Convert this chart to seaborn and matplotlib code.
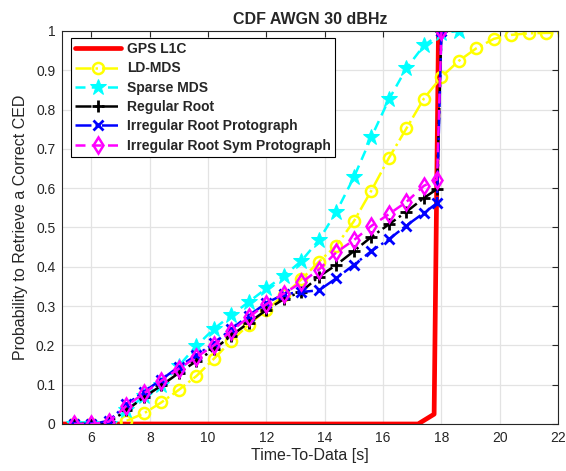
import numpy as np
import pandas as pd
import matplotlib
matplotlib.use("Agg")
import matplotlib.pyplot as plt
import seaborn as sns

# time axis (s) shared by most curves
t_grid = [5.4, 6.0, 6.6, 7.2, 7.8, 8.4, 9.0, 9.6, 10.2, 10.8, 11.4, 12.0,
          12.6, 13.2, 13.8, 14.4, 15.0, 15.6, 16.2, 16.8, 17.4, 17.85, 18.0]

# GPS L1C
t_gps = [5.0, 17.2, 17.75, 17.9]
p_gps = [0.0, 0.0, 0.025, 1.0]

# LD-MDS
t_ldmds = [5.4, 6.0, 6.6, 7.2, 7.8, 8.4, 9.0, 9.6, 10.2, 10.8, 11.4, 12.0,
           12.6, 13.2, 13.8, 14.4, 15.0, 15.6, 16.2, 16.8, 17.4, 18.0,
           18.6, 19.2, 19.8, 20.4, 21.0, 21.6, 22.2]
p_ldmds = [0.0, 0.0, 0.0, 0.008, 0.027, 0.055, 0.087, 0.122, 0.166, 0.212,
           0.253, 0.29, 0.328, 0.368, 0.413, 0.454, 0.516, 0.594, 0.677,
           0.752, 0.828, 0.883, 0.924, 0.956, 0.98, 0.99, 0.994, 0.995, 0.995]

# Sparse MDS
t_sparse = [5.4, 6.0, 6.6, 7.2, 7.8, 8.4, 9.0, 9.6, 10.2, 10.8, 11.4, 12.0,
            12.6, 13.2, 13.8, 14.4, 15.0, 15.6, 16.2, 16.8, 17.4, 18.0, 18.6]
p_sparse = [0.0, 0.0, 0.0, 0.035, 0.07, 0.1, 0.148, 0.199, 0.242, 0.277,
            0.311, 0.345, 0.377, 0.415, 0.468, 0.54, 0.628, 0.73, 0.826,
            0.905, 0.963, 0.995, 1.0]

# Regular Root
p_regular = [0.0, 0.0, 0.004, 0.035, 0.068, 0.098, 0.13, 0.16, 0.19, 0.225,
             0.258, 0.29, 0.318, 0.337, 0.375, 0.405, 0.44, 0.476, 0.508,
             0.54, 0.575, 0.598, 1.0]

# Irregular Root Protograph
p_irregular = [0.0, 0.0, 0.008, 0.05, 0.082, 0.113, 0.146, 0.175, 0.205,
               0.242, 0.276, 0.308, 0.33, 0.336, 0.34, 0.371, 0.405, 0.44,
               0.47, 0.505, 0.537, 0.562, 1.0]

# Irregular Root Sym Protograph
p_sym = [0.0, 0.0, 0.006, 0.046, 0.078, 0.11, 0.141, 0.17, 0.2, 0.237,
         0.272, 0.305, 0.332, 0.36, 0.393, 0.437, 0.468, 0.504, 0.534,
         0.565, 0.606, 0.622, 1.0]

x_ticks = [6, 8, 10, 12, 14, 16, 18, 20, 22]
y_ticks = [0, 0.1, 0.2, 0.3, 0.4, 0.5, 0.6, 0.7, 0.8, 0.9, 1]

sns.set_style("white")
plt.rcParams['font.family'] = ['Liberation Sans', 'DejaVu Sans']

fig = plt.figure(figsize=(5.66, 4.71), dpi=100)
ax = fig.add_axes([0.11, 0.0998, 0.876, 0.8345])

gray = '#262626'

sns.lineplot(x=t_gps, y=p_gps, ax=ax, color='red', linewidth=3.4,
             label='GPS L1C', sort=False)
sns.lineplot(x=t_ldmds, y=p_ldmds, ax=ax, color='yellow', linewidth=1.8,
             linestyle='-.', marker='o', markersize=8, markerfacecolor='none',
             markeredgecolor='yellow', markeredgewidth=1.8, label='LD-MDS')
sns.lineplot(x=t_sparse, y=p_sparse, ax=ax, color='cyan', linewidth=1.8,
             linestyle=(0, (4, 2.5)), marker='*', markersize=12,
             markeredgecolor='cyan', label='Sparse MDS')
sns.lineplot(x=t_grid, y=p_regular, ax=ax, color='black', linewidth=1.8,
             linestyle='-.', marker='+', markersize=9, markeredgewidth=2,
             markeredgecolor='black', label='Regular Root')
sns.lineplot(x=t_grid, y=p_irregular, ax=ax, color='blue', linewidth=1.8,
             linestyle='-.', marker='x', markersize=7, markeredgewidth=2,
             markeredgecolor='blue', label='Irregular Root Protograph')
sns.lineplot(x=t_grid, y=p_sym, ax=ax, color='magenta', linewidth=1.8,
             linestyle=(0, (4, 2.5)), marker='d', markersize=8,
             markerfacecolor='none', markeredgecolor='magenta',
             markeredgewidth=1.8, label='Irregular Root Sym Protograph')

ax.set_xlim(5.0, 22)
ax.set_ylim(0, 1)
ax.set_xticks(x_ticks)
ax.set_yticks(y_ticks)
ax.set_yticklabels(['0', '0.1', '0.2', '0.3', '0.4', '0.5', '0.6', '0.7',
                    '0.8', '0.9', '1'])
ax.grid(True, color='#e3e3e3', linewidth=0.9)
ax.set_axisbelow(True)
ax.tick_params(direction='in', top=True, right=True, length=4, width=0.8,
               colors=gray, labelsize=10, pad=5)
for s in ax.spines.values():
    s.set_color(gray)
    s.set_linewidth(0.8)

ax.set_title('CDF AWGN 30 dBHz', fontsize=11.5, fontweight='bold', pad=5)
ax.set_xlabel('Time-To-Data [s]', fontsize=11.5, color=gray, labelpad=2)
ax.set_ylabel('Probability to Retrieve a Correct CED', fontsize=11.5,
              color=gray, labelpad=6)

leg = ax.legend(loc='upper left', bbox_to_anchor=(0.018, 0.982),
                prop={'weight': 'bold', 'size': 10}, frameon=True,
                fancybox=False, edgecolor='black', framealpha=1,
                handlelength=3.3, handletextpad=0.4, borderpad=0.3,
                labelspacing=0.38, borderaxespad=0)
leg.get_frame().set_linewidth(0.8)

fig.savefig('out.png', dpi=100)
